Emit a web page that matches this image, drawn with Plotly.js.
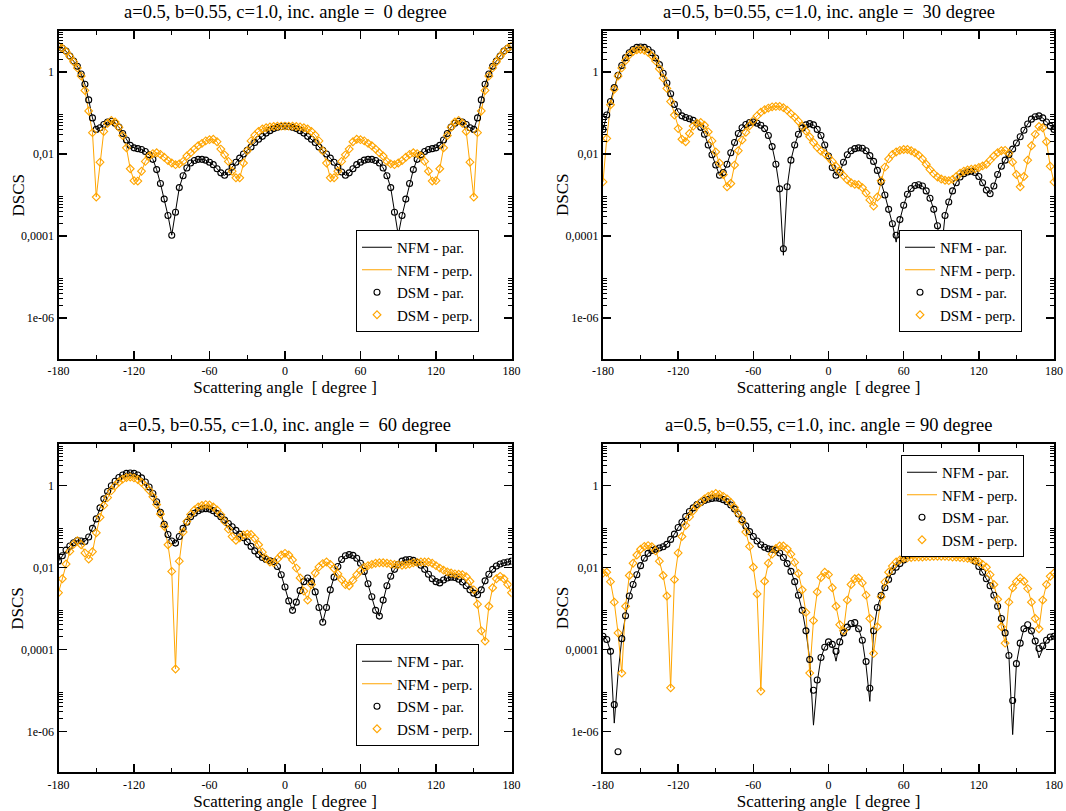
<!DOCTYPE html>
<html><head><meta charset="utf-8">
<script src="https://cdn.plot.ly/plotly-3.0.1.min.js"></script>
<style>html,body{margin:0;padding:0;background:#fff}#chart{width:1066px;height:811px}</style>
</head><body><div id="chart"></div>
<script>
// Angles: -180 .. 180 degrees, step 3 (x0 / dx of each trace)
const angleStart = -180;
const angleStep = 3;

const panelTitles = [
  'a=0.5, b=0.55, c=1.0, inc. angle =\u00A0 0 degree',
  'a=0.5, b=0.55, c=1.0, inc. angle =\u00A0 30 degree',
  'a=0.5, b=0.55, c=1.0, inc. angle =\u00A0 60 degree',
  'a=0.5, b=0.55, c=1.0, inc. angle = 90 degree'
];
const legendNames = ['NFM - par.', 'NFM - perp.', 'DSM - par.', 'DSM - perp.'];
const xTitle = 'Scattering angle\u00A0 [ degree ]';
const yTitle = 'DSCS';
const xTickVals = [-180, -120, -60, 0, 60, 120, 180];
const xMinorVals = [-150, -90, -30, 30, 90, 150];
const yTickVals = [1e-6, 1e-4, 1e-2, 1];
const yTickText = ['1e-06', '0,0001', '0,01', '1'];
const yMinorVals = [2e-6,3e-6,4e-6,5e-6,6e-6,7e-6,8e-6,9e-6,
  2e-4,3e-4,4e-4,5e-4,6e-4,7e-4,8e-4,9e-4,
  2e-2,3e-2,4e-2,5e-2,6e-2,7e-2,8e-2,9e-2,
  2,3,4,5,6,7,8,9];

// log10(DSCS), angles -180..180 step 3
// Panel 1 (inc. angle 0)
const p1Par = [0.63,0.58,0.51,0.39,0.27,0.14,-0.05,-0.30,-0.68,-1.12,
-1.40,-1.36,-1.28,-1.22,-1.20,-1.25,-1.34,-1.50,-1.66,-1.79,
-1.85,-1.87,-1.89,-1.94,-2.02,-2.13,-2.38,-2.72,-3.10,-3.50,
-3.98,-3.42,-2.82,-2.53,-2.34,-2.22,-2.16,-2.13,-2.13,-2.15,
-2.20,-2.26,-2.36,-2.46,-2.52,-2.44,-2.32,-2.20,-2.10,-2.00,
-1.91,-1.83,-1.72,-1.64,-1.57,-1.49,-1.43,-1.38,-1.35,-1.33,
-1.32,
-1.33,-1.35,-1.38,-1.43,-1.49,-1.57,-1.64,-1.72,-1.83,
-1.91,-2.00,-2.10,-2.20,-2.32,-2.44,-2.52,-2.46,-2.36,-2.26,
-2.20,-2.15,-2.13,-2.13,-2.16,-2.22,-2.34,-2.53,-2.82,-3.42,
-3.98,-3.50,-3.10,-2.72,-2.38,-2.13,-2.02,-1.94,-1.89,-1.87,
-1.85,-1.79,-1.66,-1.50,-1.34,-1.25,-1.20,-1.22,-1.28,-1.36,
-1.40,-1.12,-0.68,-0.30,-0.05,0.14,0.27,0.39,0.51,0.58,
0.63];
const p1Perp = [0.63,0.58,0.50,0.38,0.25,0.10,-0.10,-0.45,-0.95,-1.48,
-3.05,-2.20,-1.45,-1.25,-1.18,-1.22,-1.35,-1.55,-1.85,-2.36,
-2.65,-2.66,-2.42,-2.18,-2.05,-1.99,-1.97,-2.01,-2.08,-2.16,
-2.22,-2.26,-2.24,-2.18,-2.05,-1.97,-1.88,-1.80,-1.74,-1.68,
-1.65,-1.64,-1.70,-1.88,-2.02,-2.18,-2.42,-2.58,-2.58,-2.22,
-1.92,-1.68,-1.54,-1.45,-1.39,-1.36,-1.34,-1.33,-1.32,-1.32,
-1.32,
-1.32,-1.32,-1.33,-1.34,-1.36,-1.39,-1.45,-1.54,-1.68,
-1.92,-2.22,-2.58,-2.58,-2.42,-2.18,-2.02,-1.88,-1.70,-1.64,
-1.65,-1.68,-1.74,-1.80,-1.88,-1.97,-2.05,-2.18,-2.24,-2.26,
-2.22,-2.16,-2.08,-2.01,-1.97,-1.99,-2.05,-2.18,-2.42,-2.66,
-2.65,-2.36,-1.85,-1.55,-1.35,-1.22,-1.18,-1.25,-1.45,-2.20,
-3.05,-1.48,-0.95,-0.45,-0.10,0.10,0.25,0.38,0.50,0.58,
0.63];

// Panel 2 (inc. angle 30)
const p2ParDSM = [-1.40,-1.05,-0.72,-0.38,-0.08,0.16,0.35,0.47,0.55,0.60,
0.61,0.60,0.55,0.47,0.34,0.18,-0.03,-0.27,-0.53,-0.79,
-0.97,-1.07,-1.11,-1.14,-1.18,-1.25,-1.35,-1.52,-1.78,-2.02,
-2.27,-2.52,-2.45,-2.25,-1.97,-1.72,-1.50,-1.36,-1.28,-1.23,
-1.22,-1.25,-1.30,-1.38,-1.55,-1.82,-2.25,-2.85,-4.31,-2.80,
-2.15,-1.78,-1.52,-1.37,-1.29,-1.26,-1.29,-1.40,-1.55,-1.78,
-2.05,-2.33,-2.52,-2.45,-2.20,-2.02,-1.92,-1.87,-1.85,-1.86,
-1.92,-2.04,-2.18,-2.40,-2.68,-3.00,-3.35,-3.70,-3.98,-3.60,
-3.25,-2.98,-2.84,-2.77,-2.75,-2.78,-2.90,-3.08,-3.35,-3.75,
-3.94,-3.50,-3.17,-2.90,-2.70,-2.56,-2.48,-2.44,-2.42,-2.45,
-2.55,-2.70,-2.88,-2.97,-2.78,-2.50,-2.30,-2.15,-2.02,-1.88,
-1.73,-1.58,-1.42,-1.27,-1.15,-1.09,-1.07,-1.12,-1.22,-1.32,
-1.40];
const p2ParNFM = [-1.40,-1.05,-0.72,-0.38,-0.08,0.16,0.35,0.47,0.55,0.60,
0.61,0.60,0.55,0.47,0.34,0.18,-0.03,-0.27,-0.53,-0.79,
-0.97,-1.07,-1.11,-1.14,-1.18,-1.25,-1.35,-1.52,-1.78,-2.02,
-2.27,-2.52,-2.45,-2.25,-1.97,-1.72,-1.50,-1.36,-1.28,-1.23,
-1.22,-1.25,-1.30,-1.38,-1.55,-1.82,-2.25,-2.85,-4.47,-2.80,
-2.15,-1.78,-1.52,-1.37,-1.29,-1.26,-1.29,-1.40,-1.55,-1.78,
-2.05,-2.33,-2.52,-2.45,-2.20,-2.02,-1.92,-1.87,-1.85,-1.86,
-1.92,-2.04,-2.18,-2.40,-2.68,-3.00,-3.35,-3.70,-4.15,-3.60,
-3.25,-2.98,-2.84,-2.77,-2.75,-2.78,-2.90,-3.08,-3.35,-3.75,
-4.43,-3.50,-3.17,-2.90,-2.70,-2.56,-2.48,-2.44,-2.42,-2.45,
-2.55,-2.70,-2.88,-2.97,-2.78,-2.50,-2.30,-2.15,-2.02,-1.88,
-1.73,-1.58,-1.42,-1.27,-1.15,-1.09,-1.07,-1.12,-1.22,-1.32,
-1.40];
const p2Perp = [-2.68,-1.62,-0.80,-0.42,-0.10,0.10,0.28,0.42,0.50,0.54,
0.55,0.53,0.48,0.40,0.27,0.08,-0.15,-0.40,-0.72,-1.05,
-1.38,-1.64,-1.70,-1.50,-1.32,-1.25,-1.23,-1.30,-1.46,-1.68,
-1.95,-2.22,-2.50,-2.80,-2.72,-2.27,-1.92,-1.66,-1.47,-1.31,
-1.18,-1.07,-0.98,-0.92,-0.88,-0.85,-0.84,-0.84,-0.87,-0.93,
-1.02,-1.10,-1.20,-1.32,-1.44,-1.58,-1.72,-1.84,-1.93,-1.99,
-2.08,-2.18,-2.30,-2.42,-2.53,-2.63,-2.70,-2.74,-2.75,-2.82,
-2.95,-3.12,-3.27,-3.05,-2.65,-2.32,-2.12,-2.01,-1.95,-1.91,
-1.89,-1.89,-1.92,-1.97,-2.03,-2.12,-2.25,-2.38,-2.48,-2.56,
-2.61,-2.64,-2.65,-2.62,-2.55,-2.47,-2.42,-2.39,-2.37,-2.36,
-2.33,-2.29,-2.25,-2.15,-2.05,-1.97,-1.92,-1.91,-1.98,-2.20,
-2.50,-2.80,-2.55,-2.15,-1.80,-1.52,-1.33,-1.36,-1.70,-2.30,
-2.68];

// Panel 3 (inc. angle 60)
const p3Par = [-1.85,-1.72,-1.58,-1.48,-1.40,-1.35,-1.36,-1.37,-1.26,-1.05,
-0.82,-0.55,-0.33,-0.15,-0.01,0.10,0.19,0.25,0.29,0.30,
0.29,0.25,0.18,0.08,-0.04,-0.20,-0.40,-0.66,-0.95,-1.20,
-1.36,-1.41,-1.25,-1.05,-0.90,-0.77,-0.68,-0.62,-0.58,-0.57,
-0.58,-0.62,-0.69,-0.77,-0.85,-0.93,-1.01,-1.10,-1.19,-1.28,
-1.38,-1.49,-1.60,-1.69,-1.76,-1.81,-1.84,-1.86,-1.98,-2.18,
-2.48,-2.82,-3.05,-2.85,-2.57,-2.35,-2.26,-2.35,-2.60,-2.98,
-3.34,-2.98,-2.55,-2.24,-1.98,-1.81,-1.72,-1.69,-1.71,-1.78,
-1.90,-2.10,-2.40,-2.72,-3.05,-3.19,-2.80,-2.45,-2.22,-2.05,
-1.93,-1.85,-1.82,-1.81,-1.83,-1.88,-1.95,-2.05,-2.17,-2.28,
-2.35,-2.38,-2.31,-2.26,-2.24,-2.25,-2.29,-2.36,-2.45,-2.55,
-2.63,-2.67,-2.55,-2.33,-2.17,-2.05,-1.97,-1.92,-1.89,-1.87,
-1.85];
const p3Perp = [-2.62,-2.28,-1.92,-1.61,-1.44,-1.35,-1.45,-1.65,-1.80,-1.62,
-1.16,-0.78,-0.49,-0.30,-0.13,-0.01,0.08,0.15,0.19,0.20,
0.18,0.14,0.07,-0.02,-0.12,-0.28,-0.47,-0.70,-1.00,-1.45,
-2.10,-4.48,-1.85,-1.14,-0.88,-0.71,-0.60,-0.53,-0.49,-0.47,
-0.48,-0.53,-0.60,-0.72,-0.88,-1.07,-1.25,-1.34,-1.28,-1.21,
-1.19,-1.20,-1.30,-1.45,-1.63,-1.79,-1.87,-1.89,-1.80,-1.70,
-1.66,-1.70,-1.82,-2.02,-2.26,-2.58,-2.80,-2.42,-2.14,-1.99,
-1.91,-1.87,-1.93,-2.03,-2.16,-2.30,-2.42,-2.45,-2.32,-2.18,
-2.08,-2.00,-1.96,-1.93,-1.90,-1.89,-1.89,-1.90,-1.92,-1.93,
-1.94,-1.95,-1.94,-1.92,-1.89,-1.88,-1.87,-1.87,-1.87,-1.90,
-1.96,-2.02,-2.07,-2.11,-2.14,-2.16,-2.17,-2.18,-2.23,-2.34,
-2.55,-2.90,-3.55,-3.80,-2.95,-2.50,-2.28,-2.22,-2.28,-2.42,
-2.62];

// Panel 4 (inc. angle 90)
const p4ParDSM = [-3.68,-3.76,-4.05,-5.35,-6.50,-3.74,-3.18,-2.70,-2.42,-2.18,
-1.96,-1.78,-1.66,-1.59,-1.56,-1.53,-1.50,-1.44,-1.32,-1.19,
-1.03,-0.90,-0.76,-0.64,-0.55,-0.47,-0.42,-0.37,-0.34,-0.32,
-0.31,-0.32,-0.35,-0.40,-0.48,-0.58,-0.70,-0.84,-0.99,-1.13,
-1.25,-1.36,-1.45,-1.51,-1.55,-1.56,-1.58,-1.65,-1.76,-1.91,
-2.10,-2.35,-2.68,-3.05,-3.55,-4.25,-5.00,-4.75,-4.20,-3.95,
-3.82,-3.88,-4.05,-3.82,-3.60,-3.46,-3.37,-3.35,-3.50,-3.78,
-4.30,-4.95,-3.55,-2.98,-2.68,-2.50,-2.30,-2.10,-2.00,-1.91,
-1.82,-1.72,-1.65,-1.58,-1.53,-1.50,-1.47,-1.45,-1.43,-1.42,
-1.42,-1.43,-1.45,-1.47,-1.51,-1.55,-1.60,-1.67,-1.75,-1.85,
-1.98,-2.12,-2.28,-2.45,-2.68,-2.95,-3.25,-3.60,-4.15,-5.25,
-4.35,-3.85,-3.50,-3.40,-3.55,-3.80,-3.98,-3.92,-3.78,-3.70,
-3.68];
const p4ParNFM = [-3.68,-3.76,-4.05,-5.80,-4.60,-3.74,-3.18,-2.70,-2.42,-2.18,
-1.96,-1.78,-1.66,-1.59,-1.56,-1.53,-1.50,-1.44,-1.32,-1.19,
-1.03,-0.90,-0.76,-0.64,-0.55,-0.47,-0.42,-0.37,-0.34,-0.32,
-0.31,-0.32,-0.35,-0.40,-0.48,-0.58,-0.70,-0.84,-0.99,-1.13,
-1.25,-1.36,-1.45,-1.51,-1.55,-1.56,-1.58,-1.65,-1.76,-1.91,
-2.10,-2.35,-2.68,-3.05,-3.55,-4.25,-5.85,-4.80,-4.20,-3.95,
-3.82,-3.88,-4.29,-3.82,-3.60,-3.46,-3.45,-3.44,-3.50,-3.78,
-4.40,-5.27,-3.55,-2.98,-2.68,-2.50,-2.30,-2.10,-2.00,-1.91,
-1.82,-1.72,-1.65,-1.58,-1.53,-1.50,-1.47,-1.45,-1.43,-1.42,
-1.42,-1.43,-1.45,-1.47,-1.51,-1.55,-1.60,-1.67,-1.75,-1.85,
-1.98,-2.12,-2.28,-2.45,-2.68,-2.95,-3.25,-3.60,-4.15,-6.08,
-4.35,-3.85,-3.50,-3.48,-3.55,-3.80,-4.21,-4.00,-3.78,-3.70,
-3.68];
const p4Perp = [-2.14,-2.12,-2.35,-2.85,-3.60,-4.58,-2.95,-2.20,-1.90,-1.70,
-1.56,-1.49,-1.47,-1.50,-1.60,-1.85,-2.20,-2.70,-4.94,-2.30,
-1.65,-1.25,-0.98,-0.77,-0.62,-0.50,-0.41,-0.33,-0.27,-0.23,
-0.20,-0.22,-0.27,-0.33,-0.42,-0.54,-0.68,-0.88,-1.14,-1.49,
-2.00,-2.65,-5.02,-2.34,-1.90,-1.68,-1.54,-1.48,-1.48,-1.55,
-1.68,-1.88,-2.15,-2.55,-3.10,-4.58,-3.30,-2.60,-2.25,-2.12,
-2.18,-2.50,-2.95,-3.40,-3.55,-2.80,-2.42,-2.28,-2.26,-2.38,
-2.68,-3.25,-4.10,-3.45,-2.72,-2.36,-2.12,-1.97,-1.87,-1.82,
-1.78,-1.77,-1.76,-1.75,-1.75,-1.75,-1.74,-1.74,-1.73,-1.73,
-1.73,-1.73,-1.74,-1.75,-1.75,-1.76,-1.77,-1.78,-1.80,-1.83,
-1.86,-1.93,-2.00,-2.18,-2.42,-2.78,-3.45,-3.85,-2.85,-2.50,
-2.35,-2.26,-2.34,-2.52,-2.85,-3.25,-3.50,-2.80,-2.42,-2.22,
-2.14];

const BLACK = '#000000';
const ORANGE = '#FFA500';
const SERIF = 'Liberation Serif, Times New Roman, serif';
const W = 1066, H = 811;

// plot-area boxes in pixels [left, right, top, bottom]
const boxes = [
  [58.5, 511.5, 31, 359],
  [603, 1054, 31, 359],
  [58.5, 511.5, 444.3, 772.3],
  [603, 1054, 444.3, 772.3]
];
const legendPos = [
  {x: 479, y: 332, yanchor: 'bottom'},
  {x: 1022, y: 332, yanchor: 'bottom'},
  {x: 479, y: 746, yanchor: 'bottom'},
  {x: 1024, y: 455, yanchor: 'top'}
];

const panels = [
  {nfmPar: p1Par, nfmPerp: p1Perp, dsmPar: p1Par, dsmPerp: p1Perp},
  {nfmPar: p2ParNFM, nfmPerp: p2Perp, dsmPar: p2ParDSM, dsmPerp: p2Perp},
  {nfmPar: p3Par, nfmPerp: p3Perp, dsmPar: p3Par, dsmPerp: p3Perp},
  {nfmPar: p4ParNFM, nfmPerp: p4Perp, dsmPar: p4ParDSM, dsmPerp: p4Perp}
];

const toVal = a => a.map(v => Math.pow(10, v));

const traces = [];
const layout = {
  width: W, height: H,
  margin: {l: 0, r: 0, t: 0, b: 0},
  paper_bgcolor: '#fff', plot_bgcolor: '#fff',
  font: {family: SERIF, color: '#000', size: 12},
  annotations: [],
  showlegend: true
};

panels.forEach((p, i) => {
  const n = i + 1;
  const xa = n === 1 ? 'x' : 'x' + n;
  const ya = n === 1 ? 'y' : 'y' + n;
  const lg = n === 1 ? 'legend' : 'legend' + n;
  const common = {xaxis: xa, yaxis: ya, x0: angleStart, dx: angleStep, legend: lg};
  traces.push(Object.assign({}, common, {
    type: 'scatter', mode: 'lines', name: legendNames[0], y: toVal(p.nfmPar),
    line: {color: BLACK, width: 1}
  }));
  traces.push(Object.assign({}, common, {
    type: 'scatter', mode: 'lines', name: legendNames[1], y: toVal(p.nfmPerp),
    line: {color: ORANGE, width: 1}
  }));
  traces.push(Object.assign({}, common, {
    type: 'scatter', mode: 'markers', name: legendNames[2], y: toVal(p.dsmPar),
    marker: {symbol: 'circle-open', size: 6, color: BLACK, line: {width: 1.1, color: BLACK}}
  }));
  traces.push(Object.assign({}, common, {
    type: 'scatter', mode: 'markers', name: legendNames[3], y: toVal(p.dsmPerp),
    marker: {symbol: 'diamond-open', size: 6, color: ORANGE, line: {width: 1.1, color: ORANGE}}
  }));

  const b = boxes[i];
  const xd = [b[0] / W, b[1] / W];
  const yd = [1 - b[3] / H, 1 - b[2] / H];
  const axisCommon = {
    showline: true, linewidth: 2, linecolor: BLACK, mirror: 'ticks',
    ticks: 'inside', ticklen: 8, tickwidth: 1.5, tickcolor: BLACK,
    showgrid: false, zeroline: false, automargin: false,
    tickfont: {family: SERIF, size: 12, color: BLACK}
  };
  layout['xaxis' + (n === 1 ? '' : n)] = Object.assign({}, axisCommon, {
    anchor: ya, domain: xd, range: [-180, 180],
    tickmode: 'array', tickvals: xTickVals, ticktext: xTickVals.map(String),
    minor: {tickmode: 'array', tickvals: xMinorVals, ticks: 'inside', ticklen: 4, tickwidth: 1, tickcolor: BLACK},
    title: {text: xTitle, font: {family: SERIF, size: 17, color: BLACK}, standoff: 0}
  });
  layout['yaxis' + (n === 1 ? '' : n)] = Object.assign({}, axisCommon, {
    anchor: xa, domain: yd, type: 'log', range: [-7, 1],
    tickmode: 'array', tickvals: yTickVals, ticktext: yTickText,
    minor: {tickmode: 'array', tickvals: yMinorVals, ticks: 'inside', ticklen: 4, tickwidth: 1, tickcolor: BLACK}
  });
  layout.annotations.push({
    xref: 'paper', yref: 'paper', x: (xd[0] + xd[1]) / 2, y: 1 - (b[2] - 19) / H,
    xanchor: 'center', yanchor: 'middle', showarrow: false,
    text: panelTitles[i], font: {family: SERIF, size: 18.5, color: BLACK}
  });
  layout.annotations.push({
    xref: 'paper', yref: 'paper', x: (b[0] - 41) / W, y: (yd[0] + yd[1]) / 2,
    xanchor: 'center', yanchor: 'middle', showarrow: false, textangle: -90,
    text: yTitle, font: {family: SERIF, size: 17, color: BLACK}
  });
  const lp = legendPos[i];
  layout[lg] = {
    x: lp.x / W, y: 1 - lp.y / H, xanchor: 'right', yanchor: lp.yanchor,
    xref: 'paper', yref: 'paper',
    bgcolor: '#fff', bordercolor: BLACK, borderwidth: 1,
    font: {family: SERIF, size: 15, color: BLACK},
    tracegroupgap: 0, itemwidth: 30
  };
});

Plotly.newPlot('chart', traces, layout, {staticPlot: true, displayModeBar: false});
</script>
</body></html>
